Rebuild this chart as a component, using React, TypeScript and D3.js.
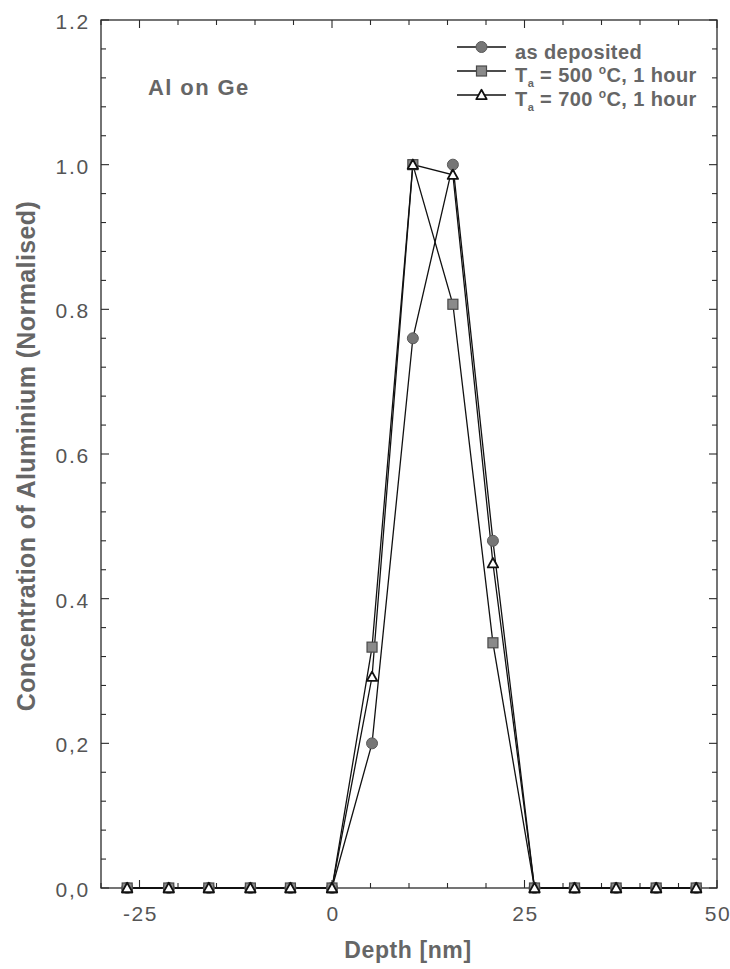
import React from "react";
import * as d3 from "d3";

// Depth positions of the profile samples [nm]
const depths = [-26.6, -21.2, -16.0, -10.6, -5.4, 0, 5.2, 10.5, 15.7, 20.9, 26.3, 31.5, 36.9, 42.1, 47.3];

// Normalised aluminium concentration for each anneal condition
const asDeposited = [0, 0, 0, 0, 0, 0, 0.2, 0.76, 1.0, 0.48, 0, 0, 0, 0, 0];
const annealed500 = [0, 0, 0, 0, 0, 0, 0.333, 1.0, 0.807, 0.339, 0, 0, 0, 0, 0];
const annealed700 = [0, 0, 0, 0, 0, 0, 0.292, 1.0, 0.986, 0.449, 0, 0, 0, 0, 0];

const xMajorTicks = [-25, 0, 25, 50];
const yMajorTicks = [0, 0.2, 0.4, 0.6, 0.8, 1.0, 1.2];
const yTickLabels = ["0,0", "0,2", "0.4", "0.6", "0.8", "1.0", "1.2"];

const W = 730;
const H = 969;
const left = 101;
const right = 717;
const top = 20;
const bottom = 888;

const x = d3.scaleLinear().domain([-30, 50]).range([left, right]);
const y = d3.scaleLinear().domain([0, 1.2]).range([bottom, top]);

const xMinor = d3.range(-30, 50.01, 5);
const yMinor = d3.range(0, 1.2001, 0.04);

const font = "'Liberation Sans', Arial, Helvetica, sans-serif";
const axisColor = "#2a2a2a";
const textColor = "#555";
const titleColor = "#666";

type Kind = "circle" | "square" | "triangle";

function Marker({ kind, cx, cy }: { kind: Kind; cx: number; cy: number }) {
  if (kind === "circle") {
    return <circle cx={cx} cy={cy} r={5.5} fill="#767676" stroke="#5a5a5a" strokeWidth={1} />;
  }
  if (kind === "square") {
    return <rect x={cx - 5} y={cy - 5} width={10} height={10} fill="#8a8a8a" stroke="#4a4a4a" strokeWidth={1.2} />;
  }
  const s = 5.2;
  const pts = `${cx},${cy - s} ${cx + s},${cy + s * 0.8} ${cx - s},${cy + s * 0.8}`;
  return <polygon points={pts} fill="#fff" stroke="#111" strokeWidth={1.8} strokeLinejoin="round" />;
}

const series: { name: string; values: number[]; kind: Kind }[] = [
  { name: "as deposited", values: asDeposited, kind: "circle" },
  { name: "500", values: annealed500, kind: "square" },
  { name: "700", values: annealed700, kind: "triangle" },
];

const line = d3
  .line<[number, number]>()
  .x((d) => x(d[0]))
  .y((d) => y(d[1]));

export default function App() {
  const legendX0 = 457;
  const legendX1 = 506;
  const legendTextX = 515;
  const legendRows = [47, 71, 95];

  return (
    <svg
      width={W}
      height={H}
      viewBox={`0 0 ${W} ${H}`}
      style={{ position: "absolute", left: 0, top: 0, background: "#fff" }}
      fontFamily={font}
    >
      {/* frame */}
      <rect x={left} y={top} width={right - left} height={bottom - top} fill="none" stroke={axisColor} strokeWidth={1.3} />

      {/* x ticks, bottom and top, pointing inward */}
      {xMinor.map((v) => {
        const major = xMajorTicks.some((m) => Math.abs(m - v) < 1e-6);
        const len = major ? 8 : 5;
        return (
          <g key={`xt${v}`} stroke={axisColor} strokeWidth={1.1}>
            <line x1={x(v)} x2={x(v)} y1={bottom} y2={bottom - len} />
            <line x1={x(v)} x2={x(v)} y1={top} y2={top + len} />
          </g>
        );
      })}

      {/* y ticks, left and right, pointing inward */}
      {yMinor.map((v) => {
        const major = yMajorTicks.some((m) => Math.abs(m - v) < 1e-6);
        const len = major ? 8 : 5;
        return (
          <g key={`yt${v.toFixed(2)}`} stroke={axisColor} strokeWidth={1.1}>
            <line x1={left} x2={left + len} y1={y(v)} y2={y(v)} />
            <line x1={right} x2={right - len} y1={y(v)} y2={y(v)} />
          </g>
        );
      })}

      {/* x tick labels */}
      {xMajorTicks.map((v) => (
        <text key={`xl${v}`} x={x(v) + 1} y={921} textAnchor="middle" fontSize={21} letterSpacing={1.5} fill={textColor}>
          {v}
        </text>
      ))}

      {/* y tick labels */}
      {yMajorTicks.map((v, i) => (
        <text key={`yl${v}`} x={90} y={y(v) + 9} textAnchor="end" fontSize={21} letterSpacing={1.8} fill={textColor}>
          {yTickLabels[i]}
        </text>
      ))}

      {/* axis titles */}
      <text x={408} y={958} textAnchor="middle" fontSize={23} fontWeight="bold" letterSpacing={0.6} fill={titleColor}>
        Depth [nm]
      </text>
      <text
        transform="translate(35, 456) rotate(-90)"
        textAnchor="middle"
        fontSize={25}
        fontWeight="bold"
        letterSpacing={0.4}
        fill={titleColor}
      >
        Concentration of Aluminium (Normalised)
      </text>

      {/* annotation */}
      <text x={148} y={95} fontSize={22} fontWeight="bold" letterSpacing={1.4} fill={titleColor}>
        Al on Ge
      </text>

      {/* profile lines */}
      {series.map((s) => (
        <path
          key={`ln${s.name}`}
          d={line(depths.map((d, i) => [d, s.values[i]] as [number, number])) ?? ""}
          fill="none"
          stroke="#111"
          strokeWidth={1.3}
        />
      ))}

      {/* profile markers */}
      {series.map((s) => (
        <g key={`mk${s.name}`}>
          {depths.map((d, i) => (
            <Marker key={i} kind={s.kind} cx={x(d)} cy={y(s.values[i])} />
          ))}
        </g>
      ))}

      {/* legend */}
      {series.map((s, i) => (
        <g key={`lg${s.name}`}>
          <line x1={legendX0} x2={legendX1} y1={legendRows[i]} y2={legendRows[i]} stroke="#111" strokeWidth={1.3} />
          <Marker kind={s.kind} cx={(legendX0 + legendX1) / 2} cy={legendRows[i]} />
        </g>
      ))}
      <text x={legendTextX} y={legendRows[0] + 12} fontSize={20} fontWeight="bold" letterSpacing={0.4} fill={titleColor}>
        as deposited
      </text>
      {["500", "700"].map((t, i) => (
        <text
          key={`lt${t}`}
          x={legendTextX}
          y={legendRows[i + 1] + 11}
          fontSize={20}
          fontWeight="bold"
          letterSpacing={0.4}
          fill={titleColor}
        >
          T
          <tspan fontSize={11} dy={5}>a</tspan>
          <tspan dy={-5}>{` = ${t} `}</tspan>
          <tspan fontSize={12} dy={-8}>o</tspan>
          <tspan dy={8}>C, 1 hour</tspan>
        </text>
      ))}
    </svg>
  );
}
